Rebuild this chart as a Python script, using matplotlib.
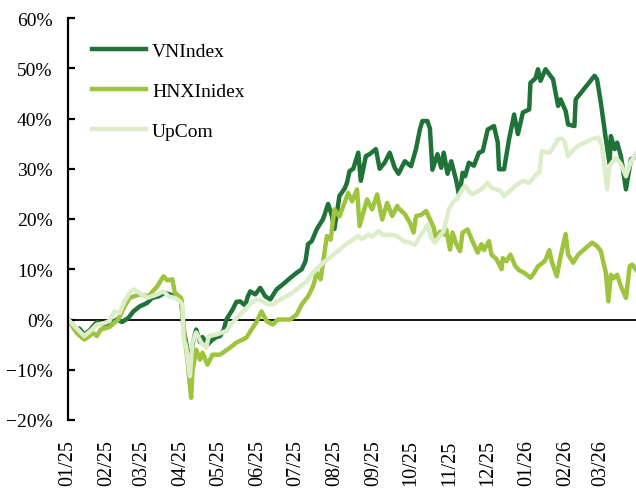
import matplotlib
matplotlib.use("Agg")
import matplotlib.pyplot as plt
import matplotlib.dates as mdates
import pandas as pd

# cumulative return since 01/2025, in %
vn_dates = [
    "2025-01-01", "2025-01-08", "2025-01-10", "2025-01-14", "2025-01-18", "2025-01-24",
    "2025-01-29", "2025-02-03", "2025-02-09", "2025-02-13", "2025-02-18", "2025-02-22",
    "2025-02-27", "2025-03-05", "2025-03-09", "2025-03-14", "2025-03-19", "2025-03-23",
    "2025-03-27", "2025-04-01", "2025-04-03", "2025-04-06", "2025-04-08", "2025-04-10",
    "2025-04-13", "2025-04-16", "2025-04-18", "2025-04-22", "2025-04-26", "2025-04-29",
    "2025-05-02", "2025-05-05", "2025-05-07", "2025-05-12", "2025-05-15", "2025-05-18",
    "2025-05-22", "2025-05-24", "2025-05-26", "2025-05-30", "2025-06-03", "2025-06-07",
    "2025-06-11", "2025-06-16", "2025-06-21", "2025-06-27", "2025-07-02", "2025-07-06",
    "2025-07-09", "2025-07-11", "2025-07-14", "2025-07-18", "2025-07-23", "2025-07-27",
    "2025-07-30", "2025-08-01", "2025-08-05", "2025-08-09", "2025-08-11", "2025-08-13",
    "2025-08-16", "2025-08-20", "2025-08-22", "2025-08-26", "2025-08-29", "2025-09-03",
    "2025-09-06", "2025-09-10", "2025-09-14", "2025-09-18", "2025-09-21", "2025-09-26",
    "2025-10-01", "2025-10-05", "2025-10-08", "2025-10-10", "2025-10-14", "2025-10-16",
    "2025-10-18", "2025-10-22", "2025-10-25", "2025-10-27", "2025-10-30", "2025-11-02",
    "2025-11-06", "2025-11-08", "2025-11-09", "2025-11-11", "2025-11-13", "2025-11-16",
    "2025-11-20", "2025-11-24", "2025-11-27", "2025-12-01", "2025-12-06", "2025-12-09",
    "2025-12-10", "2025-12-14", "2025-12-18", "2025-12-22", "2025-12-25", "2025-12-29",
    "2026-01-03", "2026-01-04", "2026-01-08", "2026-01-10", "2026-01-12", "2026-01-16",
    "2026-01-22", "2026-01-26", "2026-01-28", "2026-02-01", "2026-02-03", "2026-02-08",
    "2026-02-09", "2026-02-16", "2026-02-24", "2026-02-26", "2026-03-01", "2026-03-05",
    "2026-03-08", "2026-03-09", "2026-03-12", "2026-03-14", "2026-03-17", "2026-03-21",
    "2026-03-25", "2026-03-29",
]
vn_values = [
    0, -2.0, -1.8, -3.0, -2.2, -0.5,
    -1.0, -1.0, 0, -0.5, 0.3, 1.6,
    2.6, 3.3, 4.3, 4.6, 5.3, 5.0,
    4.6, 4.0, -2.0, -6.0, -11.0, -5.0,
    -2.0, -4.5, -3.5, -5.0, -4.0, -3.5,
    -3.3, -2.0, 0, 2.0, 3.5, 3.6,
    2.8, 4.5, 5.6, 5.0, 6.3, 4.6,
    4.0, 6.0, 7.0, 8.3, 9.3, 10.0,
    11.6, 15.0, 15.6, 18.0, 20.0, 23.0,
    20.6, 18.0, 24.6, 26.0, 27.2, 29.5,
    30.0, 33.2, 27.6, 32.5, 32.9, 33.9,
    30.0, 31.2, 33.2, 30.2, 29.0, 31.5,
    30.5, 34.0, 37.8, 39.5, 39.5, 38.0,
    29.8, 32.9, 30.2, 33.2, 29.0, 31.5,
    27.6, 25.0, 25.5, 29.2, 28.5, 31.2,
    30.6, 33.2, 33.5, 37.8, 38.5, 35.2,
    29.9, 29.9, 35.9, 40.8, 36.9, 41.2,
    41.8, 47.1, 48.0, 49.8, 47.5, 49.8,
    47.8, 42.5, 43.8, 41.5, 38.8, 38.5,
    43.8, 46.0, 48.5, 47.8, 43.2, 35.9,
    30.9, 36.5, 33.9, 35.2, 32.5, 25.9,
    31.9, 32.5,
]

hnx_dates = [
    "2025-01-01", "2025-01-08", "2025-01-14", "2025-01-18", "2025-01-21", "2025-01-24",
    "2025-01-27", "2025-02-03", "2025-02-10", "2025-02-15", "2025-02-19", "2025-02-27",
    "2025-03-06", "2025-03-13", "2025-03-18", "2025-03-21", "2025-03-25", "2025-03-27",
    "2025-04-01", "2025-04-04", "2025-04-06", "2025-04-09", "2025-04-10", "2025-04-13",
    "2025-04-16", "2025-04-18", "2025-04-22", "2025-04-26", "2025-05-02", "2025-05-10",
    "2025-05-15", "2025-05-23", "2025-05-27", "2025-05-31", "2025-06-04", "2025-06-08",
    "2025-06-13", "2025-06-17", "2025-06-27", "2025-07-02", "2025-07-06", "2025-07-11",
    "2025-07-15", "2025-07-18", "2025-07-21", "2025-07-26", "2025-07-29", "2025-08-01",
    "2025-08-05", "2025-08-12", "2025-08-15", "2025-08-19", "2025-08-21", "2025-08-27",
    "2025-08-31", "2025-09-04", "2025-09-08", "2025-09-12", "2025-09-16", "2025-09-20",
    "2025-09-22", "2025-09-26", "2025-09-30", "2025-10-03", "2025-10-05", "2025-10-09",
    "2025-10-13", "2025-10-19", "2025-10-21", "2025-10-24", "2025-10-27", "2025-10-29",
    "2025-11-01", "2025-11-03", "2025-11-06", "2025-11-09", "2025-11-11", "2025-11-15",
    "2025-11-19", "2025-11-23", "2025-11-26", "2025-11-28", "2025-12-02", "2025-12-04",
    "2025-12-08", "2025-12-12", "2025-12-13", "2025-12-16", "2025-12-19", "2025-12-23",
    "2025-12-26", "2025-12-30", "2026-01-04", "2026-01-07", "2026-01-10", "2026-01-14",
    "2026-01-16", "2026-01-19", "2026-01-21", "2026-01-25", "2026-01-28", "2026-02-01",
    "2026-02-03", "2026-02-07", "2026-02-11", "2026-02-22", "2026-02-26", "2026-03-01",
    "2026-03-05", "2026-03-07", "2026-03-09", "2026-03-11", "2026-03-14", "2026-03-17",
    "2026-03-21", "2026-03-24", "2026-03-26", "2026-03-29",
]
hnx_values = [
    0, -2.7, -4.0, -3.3, -2.7, -3.3,
    -2.0, -1.5, 0, 2.6, 4.3, 5.0,
    4.6, 6.6, 8.6, 7.8, 8.0, 5.3,
    4.3, -4.0, -8.0, -15.6, -10.4, -6.0,
    -8.0, -6.6, -9.0, -7.0, -7.0, -5.6,
    -4.6, -3.6, -2.0, -0.5, 1.6, -0.3,
    -1.0, 0, 0, 1.0, 3.0, 4.6,
    6.6, 9.3, 8.0, 16.6, 15.9, 21.9,
    20.5, 25.2, 23.5, 25.9, 18.6, 23.9,
    21.9, 24.9, 19.9, 23.2, 20.6, 22.6,
    21.9, 21.0, 19.3, 17.3, 20.6, 20.8,
    21.6, 18.3, 15.8, 17.5, 16.9, 17.9,
    13.9, 17.3, 15.0, 13.6, 17.3, 17.9,
    15.5, 13.3, 15.0, 13.8, 15.6, 12.9,
    12.0, 10.0, 12.2, 11.6, 12.9, 10.6,
    9.8, 9.3, 8.3, 9.3, 10.6, 11.3,
    11.9, 13.8, 11.5, 8.6, 12.6, 17.0,
    12.9, 11.3, 12.9, 15.3, 14.6, 13.6,
    9.3, 3.6, 8.9, 8.2, 8.9, 6.6,
    4.3, 10.6, 10.9, 9.9,
]

upcom_dates = [
    "2025-01-01", "2025-01-10", "2025-01-14", "2025-01-20", "2025-01-24", "2025-01-29",
    "2025-02-03", "2025-02-07", "2025-02-11", "2025-02-15", "2025-02-19", "2025-02-22",
    "2025-02-27", "2025-03-05", "2025-03-13", "2025-03-18", "2025-03-22", "2025-03-27",
    "2025-03-31", "2025-04-02", "2025-04-03", "2025-04-05", "2025-04-08", "2025-04-10",
    "2025-04-13", "2025-04-17", "2025-04-21", "2025-04-23", "2025-04-29", "2025-05-07",
    "2025-05-12", "2025-05-18", "2025-05-23", "2025-05-28", "2025-06-01", "2025-06-05",
    "2025-06-09", "2025-06-13", "2025-06-19", "2025-06-24", "2025-06-30", "2025-07-05",
    "2025-07-10", "2025-07-15", "2025-07-19", "2025-07-23", "2025-07-30", "2025-08-05",
    "2025-08-12", "2025-08-16", "2025-08-20", "2025-08-23", "2025-08-28", "2025-08-31",
    "2025-09-05", "2025-09-09", "2025-09-14", "2025-09-20", "2025-09-25", "2025-09-30",
    "2025-10-04", "2025-10-08", "2025-10-12", "2025-10-14", "2025-10-17", "2025-10-20",
    "2025-10-27", "2025-10-31", "2025-11-03", "2025-11-07", "2025-11-11", "2025-11-13",
    "2025-11-18", "2025-11-21", "2025-11-26", "2025-12-01", "2025-12-04", "2025-12-11",
    "2025-12-14", "2025-12-20", "2025-12-23", "2025-12-29", "2026-01-03", "2026-01-09",
    "2026-01-11", "2026-01-13", "2026-01-19", "2026-01-22", "2026-01-26", "2026-01-29",
    "2026-01-31", "2026-02-03", "2026-02-06", "2026-02-11", "2026-02-22", "2026-02-27",
    "2026-03-02", "2026-03-06", "2026-03-08", "2026-03-13", "2026-03-17", "2026-03-21",
    "2026-03-25", "2026-03-29",
]
upcom_values = [
    0, -2.3, -3.3, -2.0, -1.0, -0.8,
    -0.3, 1.6, 1.3, 3.6, 5.3, 6.0,
    5.3, 4.3, 5.0, 5.6, 4.6, 4.3,
    3.6, 3.0, -4.0, -5.3, -11.3, -4.6,
    -2.6, -4.6, -5.6, -3.3, -3.0, -2.3,
    -0.6, 1.0, 2.3, 3.6, 4.0, 3.6,
    3.0, 3.0, 4.0, 4.6, 5.6, 6.6,
    7.6, 9.3, 10.3, 11.3, 12.6, 13.9,
    15.3, 15.9, 16.6, 16.0, 16.9, 16.5,
    17.6, 16.8, 16.9, 16.6, 15.6, 15.3,
    14.9, 16.5, 17.9, 18.9, 16.3, 15.3,
    17.6, 21.9, 23.2, 24.2, 26.0, 26.6,
    24.9, 25.2, 25.9, 27.2, 26.2, 25.6,
    24.6, 25.9, 26.6, 27.6, 27.2, 29.0,
    29.2, 33.5, 33.2, 34.2, 35.9, 36.0,
    35.5, 32.5, 33.5, 34.6, 35.9, 36.2,
    34.6, 25.9, 30.6, 32.2, 30.9, 28.5,
    31.5, 33.0,
]

series = [
    ("VNIndex", vn_dates, vn_values, "#1f7338"),
    ("HNXInidex", hnx_dates, hnx_values, "#9dc43c"),
    ("UpCom", upcom_dates, upcom_values, "#dcedca"),
]
y_ticks = [-20, -10, 0, 10, 20, 30, 40, 50, 60]

plt.rcParams['font.family'] = ['Liberation Serif', 'DejaVu Serif']

fig = plt.figure(figsize=(6.36, 4.89), dpi=100)
ax = fig.add_axes([68 / 636, 1 - 421 / 489, 568 / 636, 402 / 489])

for name, dates, values, color in series:
    ax.plot(pd.to_datetime(dates), values, color=color, lw=3.2, label=name,
            solid_joinstyle='round')

ax.axhline(0, color='black', lw=1.3, zorder=1)

ax.set_xlim(pd.Timestamp("2025-01-01"), pd.Timestamp("2026-03-29"))
ax.set_ylim(-20, 60)
ax.set_yticks(y_ticks)
ax.set_yticklabels([f"{v}%".replace("-", "\u2212") for v in y_ticks])

ax.xaxis.set_major_locator(mdates.MonthLocator())
ax.xaxis.set_major_formatter(mdates.DateFormatter("%m/%y"))
plt.setp(ax.get_xticklabels(), rotation=90, va='top', ha='center')

for side in ['top', 'right', 'bottom']:
    ax.spines[side].set_visible(False)
ax.spines['left'].set_linewidth(1.6)
ax.tick_params(axis='y', direction='in', length=5, width=1.6, pad=11, labelsize=14)
ax.tick_params(axis='x', length=0, pad=14, labelsize=14.5)

ax.legend(loc='upper left', bbox_to_anchor=(0.042, 0.94), frameon=False,
          fontsize=14, handlelength=2.8, handletextpad=0.3, labelspacing=1.15,
          borderpad=0, borderaxespad=0)

fig.savefig("out.png", dpi=100)
